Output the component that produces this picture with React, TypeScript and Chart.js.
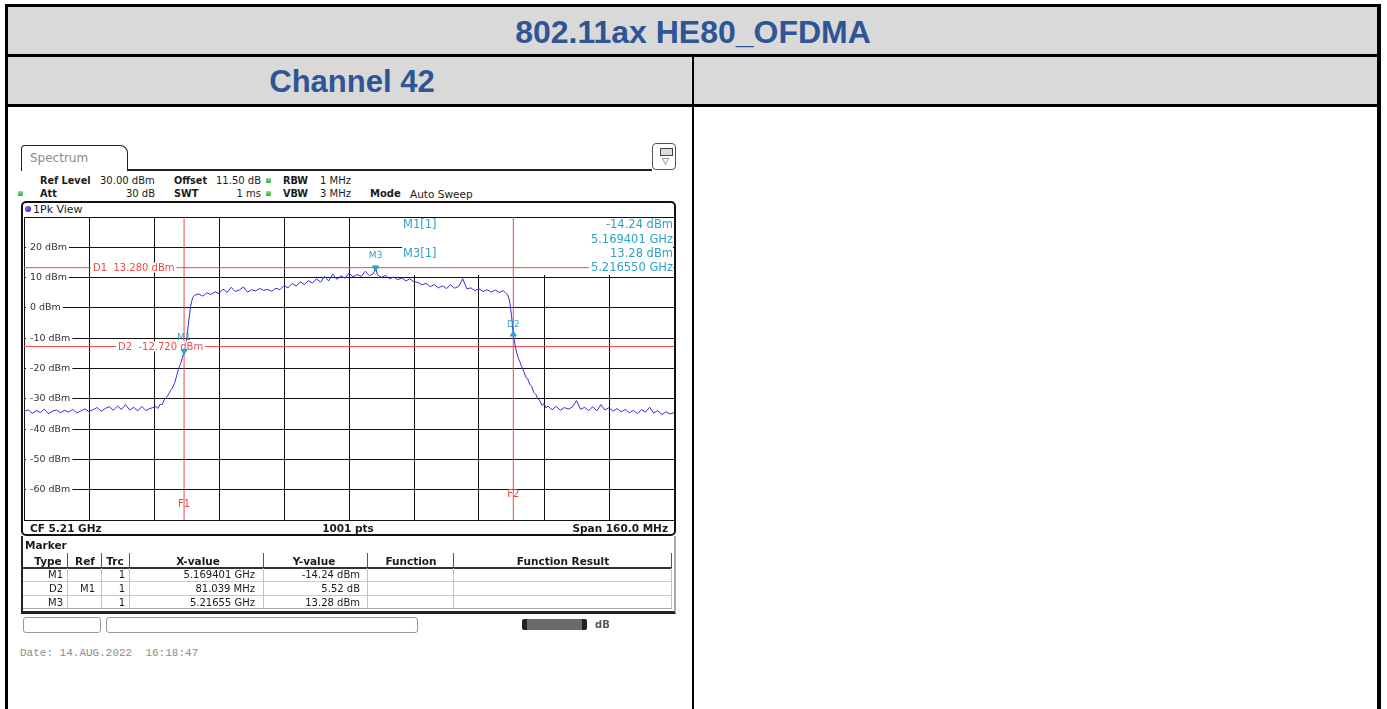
import React, { useEffect, useRef } from "react";
import { Chart, registerables } from "chart.js";

Chart.register(...registerables);

// ---------------- data ----------------
const freqMHz = [
  5130, 5131, 5132, 5133, 5134, 5135, 5136, 5137, 5138, 5139,
  5140, 5141, 5142, 5143, 5144, 5145, 5146, 5147, 5148, 5149,
  5150, 5151, 5152, 5153, 5154, 5155, 5156, 5157, 5158, 5159,
  5160, 5161, 5162, 5162.5, 5163, 5163.5, 5164, 5164.5, 5165, 5165.5,
  5166, 5166.5, 5167, 5167.5, 5168, 5168.5, 5169, 5169.401, 5170, 5170.5,
  5171, 5171.5, 5172, 5173, 5174, 5175, 5176, 5177, 5178, 5179,
  5180, 5181, 5182, 5183, 5184, 5185, 5186, 5187, 5188, 5189,
  5190, 5191, 5192, 5193, 5194, 5195, 5196, 5197, 5198, 5199,
  5200, 5201, 5202, 5203, 5204, 5205, 5206, 5207, 5208, 5209,
  5210, 5211, 5212, 5213, 5214, 5215, 5216, 5216.55, 5217, 5218,
  5219, 5220, 5221, 5222, 5223, 5224, 5225, 5226, 5227, 5228,
  5229, 5230, 5231, 5232, 5233, 5234, 5235, 5236, 5237, 5238,
  5239, 5240, 5241, 5242, 5243, 5244, 5245, 5246, 5247, 5248,
  5248.5, 5249, 5249.5, 5250, 5250.44, 5251, 5251.5, 5252, 5252.5, 5253,
  5253.5, 5254, 5254.5, 5255, 5255.5, 5256, 5256.5, 5257, 5257.5, 5258,
  5258.5, 5259, 5260, 5261, 5262, 5263, 5264, 5265, 5266, 5267,
  5268, 5269, 5270, 5271, 5272, 5273, 5274, 5275, 5276, 5277,
  5278, 5279, 5280, 5281, 5282, 5283, 5284, 5285, 5286, 5287,
  5288, 5289, 5290,
];

const levelDbm = [
  -34.2, -33.6, -34.8, -33.9, -34.5, -33.4, -34.9, -34.1, -33.7, -34.6,
  -33.8, -34.4, -33.5, -34.7, -34.0, -33.3, -34.2, -33.6, -32.9, -34.1,
  -33.2, -32.6, -33.8, -32.4, -33.5, -31.9, -33.7, -32.8, -34.0, -32.5,
  -33.9, -33.2, -32.8, -32.6, -33.2, -31.8, -31.9, -30.4, -29.6, -28.7,
  -27.4, -26.5, -25.0, -22.8, -20.3, -18.6, -16.4, -14.24, -11.0, -5.0,
  0.5, 3.4, 4.2, 4.6, 3.9, 5.0, 4.4, 5.3, 4.8, 6.2,
  5.1, 6.8, 5.4, 5.9, 6.9, 5.2, 6.0, 5.6, 6.4, 5.8,
  6.1, 5.5, 6.5, 6.0, 7.4, 6.6, 8.1, 7.2, 8.6, 7.7,
  9.0, 8.2, 9.6, 8.5, 10.4, 8.9, 11.2, 9.4, 10.6, 9.8,
  11.5, 10.2, 11.0, 10.4, 12.1, 10.6, 11.3, 13.28, 10.9, 10.1,
  10.7, 9.6, 10.2, 9.3, 9.9, 8.9, 9.6, 8.6, 8.4, 7.6,
  8.1, 7.0, 7.7, 6.6, 7.3, 6.4, 7.6, 6.5, 7.1, 9.6,
  6.3, 6.6, 5.7, 6.3, 5.4, 6.0, 5.2, 5.9, 5.1, 5.7,
  5.0, 4.4, 2.6, -2.5, -8.72, -13.2, -15.9, -17.6, -19.4, -20.9,
  -22.8, -23.5, -25.2, -26.0, -27.9, -28.6, -30.1, -30.6, -32.2, -31.6,
  -33.0, -32.4, -33.6, -32.5, -33.8, -32.9, -33.4, -32.7, -30.6, -33.5,
  -32.8, -33.9, -32.6, -34.0, -31.9, -33.7, -32.9, -34.1, -33.2, -34.3,
  -33.5, -34.6, -33.8, -34.9, -33.6, -34.4, -32.8, -34.7, -33.9, -35.2,
  -34.3, -35.0, -34.6,
];

const markerNames = ["M1", "D2", "M3"];
const markerFreqMHz = [5169.401, 5250.44, 5216.55];
const markerLevelDbm = [-14.24, -8.72, 13.28];

const displayLineNames = ["D1", "D2"];
const displayLineDbm = [13.28, -12.72];
const freqLineNames = ["F1", "F2"];
const freqLineMHz = [5169.401, 5250.44];

const yTickValues = [30, 20, 10, 0, -10, -20, -30, -40, -50, -60, -70];
const yTickLabels = ["", "20 dBm", "10 dBm", "0 dBm", "-10 dBm", "-20 dBm", "-30 dBm", "-40 dBm", "-50 dBm", "-60 dBm", ""];

const spanStartMHz = 5130;
const spanStopMHz = 5290;
const divisionMHz = 16;
const refLevelDbm = 30;
const bottomDbm = -70;

const tableHeaders = ["Type", "Ref", "Trc", "X-value", "Y-value", "Function", "Function Result"];
const tableTypes = ["M1", "D2", "M3"];
const tableRefs = ["", "M1", ""];
const tableTrc = ["1", "1", "1"];
const tableX = ["5.169401 GHz", "81.039 MHz", "5.21655 GHz"];
const tableY = ["-14.24 dBm", "5.52 dB", "13.28 dBm"];

// ---------------- styles ----------------
const SF = '"DejaVu Sans", Verdana, sans-serif';
const CYAN = "#2ea2c4";
const RED = "#f04848";
const BLUE = "#3030dc";
const GRID = "#111111";
const MARKER_DS = 5;

const overlayPlugin = {
  id: "rsOverlay",
  beforeDatasetsDraw(chart: any) {
    const { ctx, chartArea: a } = chart;
    ctx.save();
    ctx.fillStyle = "#ffffff";
    ctx.fillRect(a.left + 378, a.top + 1, a.right - a.left - 379, 57);
    ctx.restore();
  },
  beforeDatasetDraw(chart: any, args: any) {
    if (args.index !== MARKER_DS) return;
    const { ctx, chartArea: a, scales } = chart;
    const xs = scales.x;
    const ys = scales.y;
    ctx.save();
    ctx.textBaseline = "middle";
    ctx.font = `10px ${SF}`;
    const dlX = [a.left + 69, a.left + 94];
    displayLineDbm.forEach((v: number, i: number) => {
      const txt = `${displayLineNames[i]}  ${v.toFixed(3)} dBm`;
      const py = ys.getPixelForValue(v);
      const w = ctx.measureText(txt).width;
      ctx.fillStyle = "#ffffff";
      ctx.fillRect(dlX[i] - 2, py - 5, w + 4, 10);
      ctx.fillStyle = RED;
      ctx.textAlign = "left";
      ctx.fillText(txt, dlX[i], py + 0.5);
    });
    const fy = [a.bottom - 16, a.bottom - 26];
    freqLineMHz.forEach((f: number, i: number) => {
      ctx.fillStyle = RED;
      ctx.textAlign = "center";
      ctx.fillText(freqLineNames[i], xs.getPixelForValue(f), fy[i]);
    });
    ctx.font = `9px ${SF}`;
    const off = [-13, -10, -12];
    markerNames.forEach((n: string, i: number) => {
      ctx.fillStyle = CYAN;
      ctx.textAlign = "center";
      ctx.fillText(n, xs.getPixelForValue(markerFreqMHz[i]), ys.getPixelForValue(markerLevelDbm[i]) + off[i]);
    });
    ctx.restore();
  },
  afterDraw(chart: any) {
    const { ctx, chartArea: a } = chart;
    ctx.save();
    ctx.font = `11.5px ${SF}`;
    ctx.textBaseline = "middle";
    ctx.fillStyle = CYAN;
    const lx = a.left + 379;
    const rx = a.right - 1;
    const rows = [a.top + 8, a.top + 23, a.top + 37, a.top + 51];
    ctx.textAlign = "left";
    ctx.fillText(`${markerNames[0]}[1]`, lx, rows[0]);
    ctx.fillText(`${markerNames[2]}[1]`, lx, rows[2]);
    ctx.textAlign = "right";
    ctx.fillText(`${markerLevelDbm[0].toFixed(2)} dBm`, rx, rows[0]);
    ctx.fillText(`${(markerFreqMHz[0] / 1000).toFixed(6)} GHz`, rx, rows[1]);
    ctx.fillText(`${markerLevelDbm[2].toFixed(2)} dBm`, rx, rows[2]);
    const last = `${(markerFreqMHz[2] / 1000).toFixed(6)} GHz`;
    const w = ctx.measureText(last).width;
    ctx.fillStyle = "#ffffff";
    ctx.fillRect(rx - w - 2, rows[3] - 6, w + 2, 12);
    ctx.fillStyle = CYAN;
    ctx.fillText(last, rx, rows[3]);
    ctx.restore();
  },
};

type TP = {
  x: number;
  y: number;
  s?: number;
  b?: boolean;
  c?: string;
  a?: "left" | "right" | "center";
  f?: string;
  children: React.ReactNode;
};

function T({ x, y, s = 10, b = false, c = "#1a1a1a", a = "left", f = SF, children }: TP) {
  const lh = Math.round(s * 1.3);
  const style: React.CSSProperties = {
    position: "absolute",
    top: y - lh / 2,
    fontSize: s,
    lineHeight: lh + "px",
    fontFamily: f,
    fontWeight: b ? 700 : 400,
    color: c,
    whiteSpace: "pre",
  };
  if (a === "left") style.left = x;
  else if (a === "right") {
    style.left = x - 400;
    style.width = 400;
    style.textAlign = "right";
  } else {
    style.left = x - 200;
    style.width = 400;
    style.textAlign = "center";
  }
  return <div style={style}>{children}</div>;
}

function R(l: number, t: number, w: number, h: number, bg: string, extra: React.CSSProperties = {}): React.CSSProperties {
  return { position: "absolute", left: l, top: t, width: w, height: h, background: bg, ...extra };
}

const greenSq: React.CSSProperties = { background: "linear-gradient(#9d9, #3a3)", borderRadius: 1 };

export default function App() {
  const ref = useRef<HTMLCanvasElement>(null);

  useEffect(() => {
    const canvas = ref.current;
    if (!canvas) return;
    const trace = freqMHz.map((f, i) => ({ x: f, y: levelDbm[i] }));
    const markers = markerNames.map((_, i) => ({ x: markerFreqMHz[i], y: markerLevelDbm[i] }));
    const datasets: any[] = [
      ...displayLineDbm.map((v, i) => ({
        label: displayLineNames[i],
        data: [{ x: spanStartMHz, y: v }, { x: spanStopMHz, y: v }],
        borderColor: RED,
        borderWidth: 1,
        pointRadius: 0,
        order: 3,
      })),
      ...freqLineMHz.map((f, i) => ({
        label: freqLineNames[i],
        data: [{ x: f, y: bottomDbm }, { x: f, y: refLevelDbm }],
        borderColor: RED,
        borderWidth: 1,
        pointRadius: 0,
        order: 3,
      })),
      {
        label: "1Pk View",
        data: trace,
        borderColor: BLUE,
        borderWidth: 1,
        pointRadius: 0,
        tension: 0,
        order: 2,
      },
      {
        label: "Markers",
        data: markers,
        showLine: false,
        pointStyle: "triangle",
        pointRotation: [180, 0, 180],
        pointRadius: 3.5,
        pointBackgroundColor: CYAN,
        pointBorderColor: CYAN,
        order: 0,
      },
    ];
    const chart = new Chart(canvas, {
      type: "line",
      data: { datasets },
      options: {
        animation: false,
        responsive: false,
        maintainAspectRatio: false,
        events: [],
        layout: { padding: { left: 0, top: 14, right: 10, bottom: 14 } },
        plugins: { legend: { display: false }, tooltip: { enabled: false } },
        scales: {
          x: {
            type: "linear",
            min: spanStartMHz,
            max: spanStopMHz,
            ticks: { display: false, stepSize: divisionMHz },
            grid: { color: GRID, lineWidth: 1, drawTicks: false },
            border: { display: true, color: GRID, width: 1 },
          },
          y: {
            type: "linear",
            position: "left",
            min: bottomDbm,
            max: refLevelDbm,
            ticks: {
              stepSize: 10,
              mirror: true,
              padding: 6,
              z: 1,
              color: "#333333",
              font: { family: SF, size: 9.5 },
              callback: (v: any) => {
                const k = yTickValues.indexOf(Number(v));
                return k >= 0 ? yTickLabels[k] : "";
              },
              showLabelBackdrop: (c: any) => c.tick && c.tick.value > bottomDbm && c.tick.value < refLevelDbm,
              backdropColor: "#ffffff",
              backdropPadding: { left: 4, right: 2, top: 1, bottom: 1 },
            },
            grid: { color: GRID, lineWidth: 1, drawTicks: false },
            border: { display: true, color: GRID, width: 1 },
          },
        },
      } as any,
      plugins: [overlayPlugin as any],
    });
    return () => chart.destroy();
  }, []);

  const colSep = [67, 101, 129, 263, 367, 453];
  const hdrX = [48, 85, 115, 198, 314, 411, 563];
  const rowY = [574, 588, 602];

  return (
    <div style={{ position: "absolute", left: 0, top: 0, width: 1387, height: 709, background: "#fff", overflow: "hidden" }}>
      {/* outer table */}
      <div style={R(8, 7, 1369, 97, "#d9d9d9")} />
      <div style={R(5, 4, 1376, 3, "#000")} />
      <div style={R(5, 4, 3, 705, "#000")} />
      <div style={R(1377, 4, 4, 705, "#000")} />
      <div style={R(5, 54, 1376, 3, "#000")} />
      <div style={R(5, 104, 1376, 3, "#000")} />
      <div style={R(692, 57, 2, 652, "#000")} />
      <div
        style={{
          position: "absolute", left: 5, width: 1376, top: 16, textAlign: "center",
          fontFamily: '"Liberation Sans", Arial, sans-serif', fontWeight: 700, fontSize: 32, lineHeight: "32px", color: "#2f5597",
        }}
      >
        802.11ax HE80_OFDMA
      </div>
      <div
        style={{
          position: "absolute", left: 8, width: 688, top: 66, textAlign: "center",
          fontFamily: '"Liberation Sans", Arial, sans-serif', fontWeight: 700, fontSize: 31, lineHeight: "31px", color: "#2f5597",
        }}
      >
        Channel 42
      </div>

      {/* spectrum tab + header */}
      <div style={R(21, 145, 105, 25, "#fff", { border: "1.5px solid #222", borderBottom: "none", borderRadius: "4px 8px 0 0" })} />
      <div style={R(127, 169, 525, 1.5, "#222")} />
      <T x={30} y={158} s={12} c="#8a8a8a">Spectrum</T>
      <div style={R(652, 143, 22, 25, "#fff", { border: "1px solid #555", borderRadius: 4 })} />
      <div style={R(660, 148, 11, 6, "#ddd", { border: "1px solid #444" })} />
      <T x={665.5} y={161} s={9} a="center" c="#444">▽</T>

      <T x={40} y={180} s={9.7} b>Ref Level</T>
      <T x={100} y={180}>30.00 dBm</T>
      <T x={174} y={180} s={9.7} b>Offset</T>
      <T x={216} y={180}>11.50 dB</T>
      <div style={R(266, 177.5, 5, 5, "#4a4", greenSq)} />
      <T x={283} y={180} s={9.7} b>RBW</T>
      <T x={320} y={180}>1 MHz</T>

      <div style={R(18, 191, 5, 5, "#4a4", greenSq)} />
      <T x={40} y={193.5} s={9.7} b>Att</T>
      <T x={155} y={193.5} a="right">30 dB</T>
      <T x={174} y={193.5} s={9.7} b>SWT</T>
      <T x={261} y={193.5} a="right">1 ms</T>
      <div style={R(266, 191, 5, 5, "#4a4", greenSq)} />
      <T x={283} y={193.5} s={9.7} b>VBW</T>
      <T x={320} y={193.5}>3 MHz</T>
      <T x={370} y={193.5} s={10} b>Mode</T>
      <T x={410} y={193.5} s={10.5}>Auto Sweep</T>

      {/* plot panel frame */}
      <div style={R(21, 201, 655, 335, "transparent", { border: "2px solid #111", borderRadius: 5, boxSizing: "border-box" })} />
      <div style={R(25, 206, 6, 6, "#22c", { borderRadius: "50%", background: "radial-gradient(circle at 35% 35%, #77f, #11b)" })} />
      <T x={33} y={209.5} s={11}>1Pk View</T>

      <canvas ref={ref} width={672} height={331} style={{ position: "absolute", left: 12, top: 203, width: 672, height: 331 }} />

      <T x={30} y={528} s={10.5} b>CF 5.21 GHz</T>
      <T x={348} y={528} s={10.5} b a="center">1001 pts</T>
      <T x={668} y={528} s={10.5} b a="right">Span 160.0 MHz</T>

      {/* marker table */}
      <div style={R(21, 536, 655, 78, "transparent", { borderLeft: "2px solid #222", borderRight: "2px solid #aaa", borderBottom: "3px solid #222", boxSizing: "border-box" })} />
      <T x={25} y={545} s={10.5} b>Marker</T>
      {tableHeaders.map((h, i) => (
        <T key={h} x={hdrX[i]} y={561} s={10.5} b a="center">{h}</T>
      ))}
      {colSep.map((x) => (
        <div key={"h" + x} style={R(x, 553, 1, 14, "#555")} />
      ))}
      <div style={R(671, 553, 1, 14, "#555")} />
      <div style={R(23, 567, 649, 1.5, "#333")} />
      {colSep.map((x) => (
        <div key={"b" + x} style={R(x, 568, 1, 41, "#c4c4c4")} />
      ))}
      <div style={R(671, 568, 1, 41, "#c4c4c4")} />
      <div style={R(23, 581, 649, 1, "#c8c8c8")} />
      <div style={R(23, 595, 649, 1, "#c8c8c8")} />
      <div style={R(23, 608, 649, 1, "#aaa")} />
      {rowY.map((y, i) => (
        <React.Fragment key={"r" + i}>
          <T x={63} y={y} a="right">{tableTypes[i]}</T>
          <T x={95} y={y} a="right">{tableRefs[i]}</T>
          <T x={125} y={y} a="right">{tableTrc[i]}</T>
          <T x={255} y={y} a="right">{tableX[i]}</T>
          <T x={360} y={y} a="right">{tableY[i]}</T>
        </React.Fragment>
      ))}

      {/* status bar */}
      <div style={R(23, 617, 78, 16, "#fff", { border: "1px solid #999", borderRadius: 3, boxSizing: "border-box" })} />
      <div style={R(106, 617, 312, 16, "#fff", { border: "1px solid #999", borderRadius: 3, boxSizing: "border-box" })} />
      <div style={R(522, 619, 65, 11, "#666", { borderRadius: 2, background: "linear-gradient(to right, #222 0 7%, #6a6a6a 7% 93%, #222 93%)" })} />
      <T x={595} y={624.5} s={10} b c="#555">dB</T>

      <T x={20} y={653} s={11} f='"Liberation Mono", "DejaVu Sans Mono", monospace' c="#8c8c8c">Date: 14.AUG.2022  16:18:47</T>
    </div>
  );
}
